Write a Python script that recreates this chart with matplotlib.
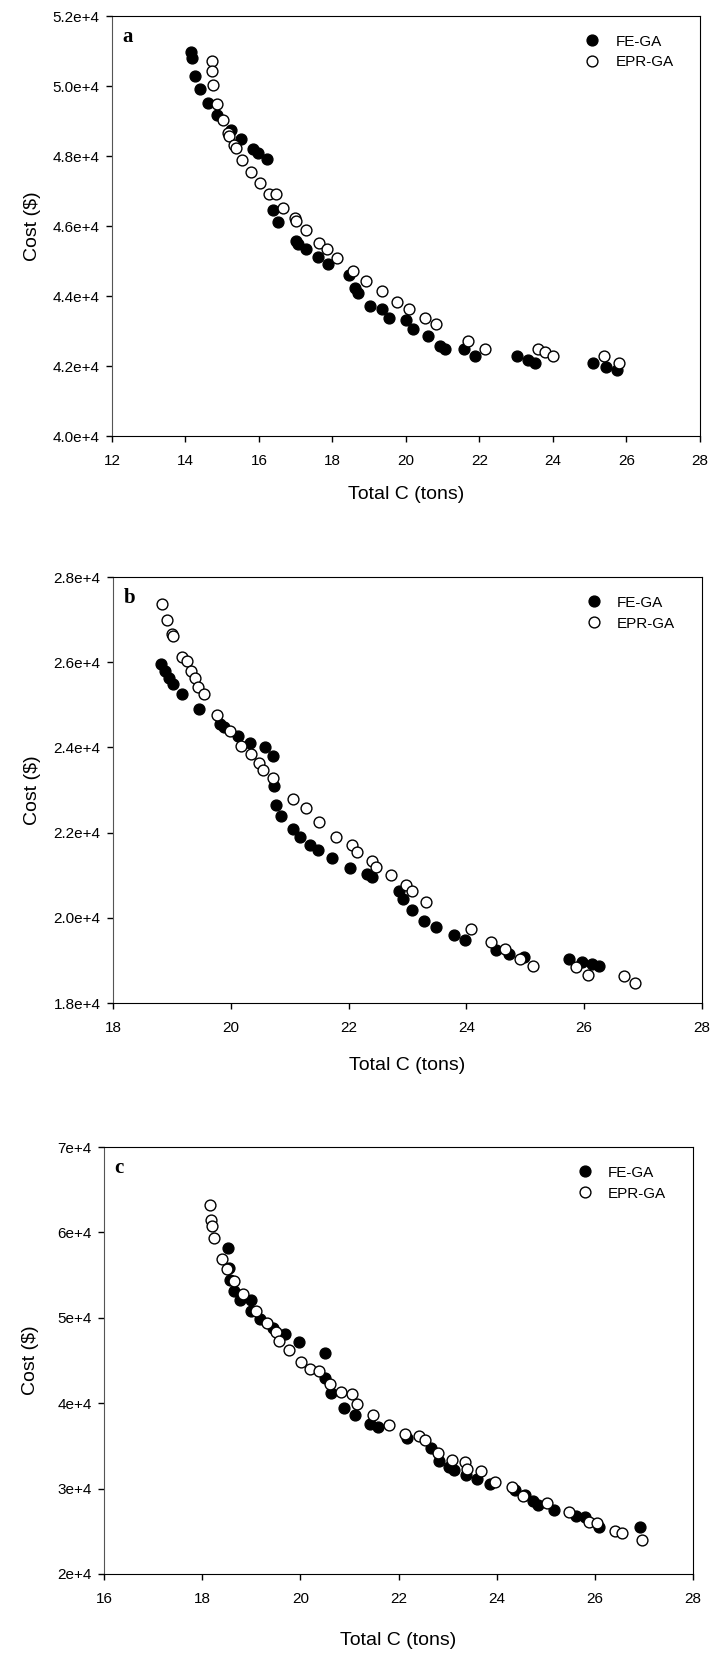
import numpy as np
import matplotlib.pyplot as plt
from matplotlib.ticker import FixedLocator, FixedFormatter

plt.rcParams['font.family'] = ['Liberation Sans', 'DejaVu Sans']

# panel a data
a_fe_x = [14.15, 14.17, 14.26, 14.40, 14.61, 14.86, 15.25, 15.51, 15.85, 15.97, 16.21, 16.37, 16.53,
          17.01, 17.07, 17.28, 17.61, 17.88, 18.45, 18.60, 18.70, 19.03, 19.35, 19.55, 20.01, 20.19,
          20.59, 20.92, 21.07, 21.57, 21.88, 23.01, 23.32, 23.50, 25.09, 25.44, 25.74]
a_fe_y = [50980, 50790, 50300, 49920, 49510, 49180, 48750, 48480, 48200, 48100, 47920, 46450, 46110,
          45560, 45490, 45330, 45110, 44930, 44590, 44230, 44090, 43730, 43640, 43380, 43310, 43070,
          42860, 42570, 42480, 42480, 42290, 42290, 42160, 42080, 42080, 41970, 41880]
a_epr_x = [14.71, 14.72, 14.76, 14.87, 15.01, 15.16, 15.18, 15.32, 15.37, 15.55, 15.79, 16.02, 16.27,
           16.47, 16.64, 16.99, 17.01, 17.28, 17.64, 17.84, 18.11, 18.55, 18.90, 19.34, 19.75, 20.07,
           20.51, 20.82, 21.69, 22.16, 23.60, 23.79, 23.99, 25.40, 25.79]
a_epr_y = [50720, 50440, 50030, 49490, 49030, 48650, 48560, 48320, 48230, 47890, 47550, 47230, 46910,
           46910, 46510, 46230, 46140, 45900, 45520, 45350, 45080, 44730, 44440, 44140, 43840, 43640,
           43380, 43190, 42730, 42500, 42500, 42400, 42290, 42290, 42100]

# panel b data
b_fe_x = [18.82, 18.88, 18.95, 19.02, 19.17, 19.46, 19.82, 19.88, 20.12, 20.32, 20.58, 20.72, 20.74,
          20.77, 20.86, 21.05, 21.18, 21.35, 21.48, 21.71, 22.03, 22.32, 22.40, 22.85, 22.92, 23.07,
          23.28, 23.49, 23.79, 23.97, 24.50, 24.72, 24.97, 25.74, 25.97, 26.13, 26.25]
b_fe_y = [25960, 25790, 25630, 25480, 25250, 24900, 24540, 24470, 24280, 24110, 24000, 23810, 23090,
          22660, 22400, 22080, 21900, 21720, 21600, 21400, 21170, 21020, 20970, 20620, 20450, 20190,
          19930, 19790, 19590, 19480, 19250, 19140, 19080, 19040, 18970, 18920, 18860]
b_epr_x = [18.84, 18.92, 19.00, 19.02, 19.17, 19.25, 19.33, 19.39, 19.45, 19.54, 19.76, 19.98, 20.18,
           20.35, 20.48, 20.55, 20.72, 21.05, 21.28, 21.49, 21.79, 22.05, 22.14, 22.39, 22.46, 22.72,
           22.98, 23.08, 23.31, 24.08, 24.42, 24.65, 24.91, 25.13, 25.86, 26.07, 26.67, 26.87]
b_epr_y = [27370, 26990, 26670, 26610, 26120, 26030, 25790, 25630, 25420, 25260, 24760, 24390, 24030,
           23840, 23640, 23470, 23290, 22790, 22570, 22260, 21900, 21700, 21540, 21340, 21200, 21000,
           20770, 20630, 20370, 19730, 19430, 19260, 19040, 18880, 18840, 18660, 18640, 18460]

# panel c data
c_fe_x = [18.53, 18.54, 18.57, 18.65, 18.78, 18.99, 18.99, 19.17, 19.45, 19.68, 19.97, 20.51, 20.51,
          20.63, 20.88, 21.11, 21.41, 21.58, 22.18, 22.66, 22.83, 23.03, 23.14, 23.37, 23.60, 23.86,
          24.38, 24.58, 24.74, 24.85, 25.16, 25.62, 25.79, 26.08, 26.93]
c_fe_y = [58180, 55830, 54390, 53160, 52130, 52040, 50810, 49860, 48830, 48130, 47180, 45820, 42940,
          41210, 39480, 38620, 37590, 37170, 35940, 34700, 33180, 32480, 32230, 31620, 31120, 30500,
          29800, 29270, 28530, 28110, 27500, 26800, 26710, 25480, 25560]
c_epr_x = [18.15, 18.17, 18.19, 18.25, 18.41, 18.50, 18.65, 18.84, 19.10, 19.33, 19.50, 19.56, 19.76,
           20.02, 20.19, 20.39, 20.61, 20.82, 21.06, 21.16, 21.49, 21.81, 22.13, 22.41, 22.53, 22.80,
           23.09, 23.35, 23.40, 23.68, 23.96, 24.31, 24.53, 25.02, 25.48, 25.88, 26.05, 26.42, 26.56,
           26.97]
c_epr_y = [63160, 61470, 60770, 59330, 56860, 55710, 54270, 52740, 50810, 49370, 48340, 47270, 46240,
           44840, 44010, 43810, 42200, 41290, 41090, 39890, 38660, 37420, 36350, 36150, 35650, 34130,
           33300, 33060, 32270, 32070, 30790, 30220, 29190, 28360, 27210, 26060, 25970, 25070, 24820,
           24000]

a_yticks = [40000, 42000, 44000, 46000, 48000, 50000, 52000]
a_ylabels = ['4.0e+4', '4.2e+4', '4.4e+4', '4.6e+4', '4.8e+4', '5.0e+4', '5.2e+4']
a_xticks = [12, 14, 16, 18, 20, 22, 24, 26, 28]
b_yticks = [18000, 20000, 22000, 24000, 26000, 28000]
b_ylabels = ['1.8e+4', '2.0e+4', '2.2e+4', '2.4e+4', '2.6e+4', '2.8e+4']
b_xticks = [18, 20, 22, 24, 26, 28]
c_yticks = [20000, 30000, 40000, 50000, 60000, 70000]
c_ylabels = ['2e+4', '3e+4', '4e+4', '5e+4', '6e+4', '7e+4']
c_xticks = [16, 18, 20, 22, 24, 26, 28]

fig = plt.figure(figsize=(7.12, 16.53), dpi=100)

# letter, axes rect, data, ticks, ylabel x, xlabel y
panels = [
    ('a', [0.1573, 0.7362, 0.8258, 0.2541], a_fe_x, a_fe_y, a_epr_x, a_epr_y, a_xticks, a_yticks, a_ylabels, -0.121, -0.118),
    ('b', [0.1587, 0.3932, 0.8272, 0.2577], b_fe_x, b_fe_y, b_epr_x, b_epr_y, b_xticks, b_yticks, b_ylabels, -0.122, -0.126),
    ('c', [0.1461, 0.0478, 0.8272, 0.2583], c_fe_x, c_fe_y, c_epr_x, c_epr_y, c_xticks, c_yticks, c_ylabels, -0.111, -0.135),
]

for letter, pos, fx, fy, ex, ey, xt, yt, yl, ylx, xly in panels:
    ax = fig.add_axes(pos)
    ax.plot(fx, fy, 'o', color='black', markersize=7.8, markeredgewidth=1, label='FE-GA')
    ax.plot(ex, ey, 'o', markerfacecolor='white', markeredgecolor='black', markersize=7.8,
            markeredgewidth=1, label='EPR-GA')
    ax.set_xlim(xt[0], xt[-1])
    ax.set_ylim(yt[0], yt[-1])
    ax.xaxis.set_major_locator(FixedLocator(xt))
    ax.yaxis.set_major_locator(FixedLocator(yt))
    ax.yaxis.set_major_formatter(FixedFormatter(yl))
    ax.tick_params(direction='out', length=4, width=1, labelsize=11, pad=5)
    ax.tick_params(axis='x', pad=9)
    for side in ['top', 'right', 'bottom']:
        ax.spines[side].set_color('black')
    ax.spines['left'].set_color('#555555')
    ax.set_xlabel('Total C (tons)', fontsize=14)
    ax.set_ylabel('Cost ($)', fontsize=14)
    ax.xaxis.set_label_coords(0.5, xly)
    ax.yaxis.set_label_coords(ylx, 0.5)
    ax.text(0.018, 0.95, letter, transform=ax.transAxes, fontsize=15, fontweight='bold',
            family='Liberation Serif', va='center', ha='left')
    ax.legend(loc='upper left', bbox_to_anchor=(0.804, 0.956), frameon=False, fontsize=11,
              borderaxespad=0, borderpad=0, handlelength=1.0, handletextpad=1.0, labelspacing=0.45)

plt.savefig('out.png', dpi=100)
